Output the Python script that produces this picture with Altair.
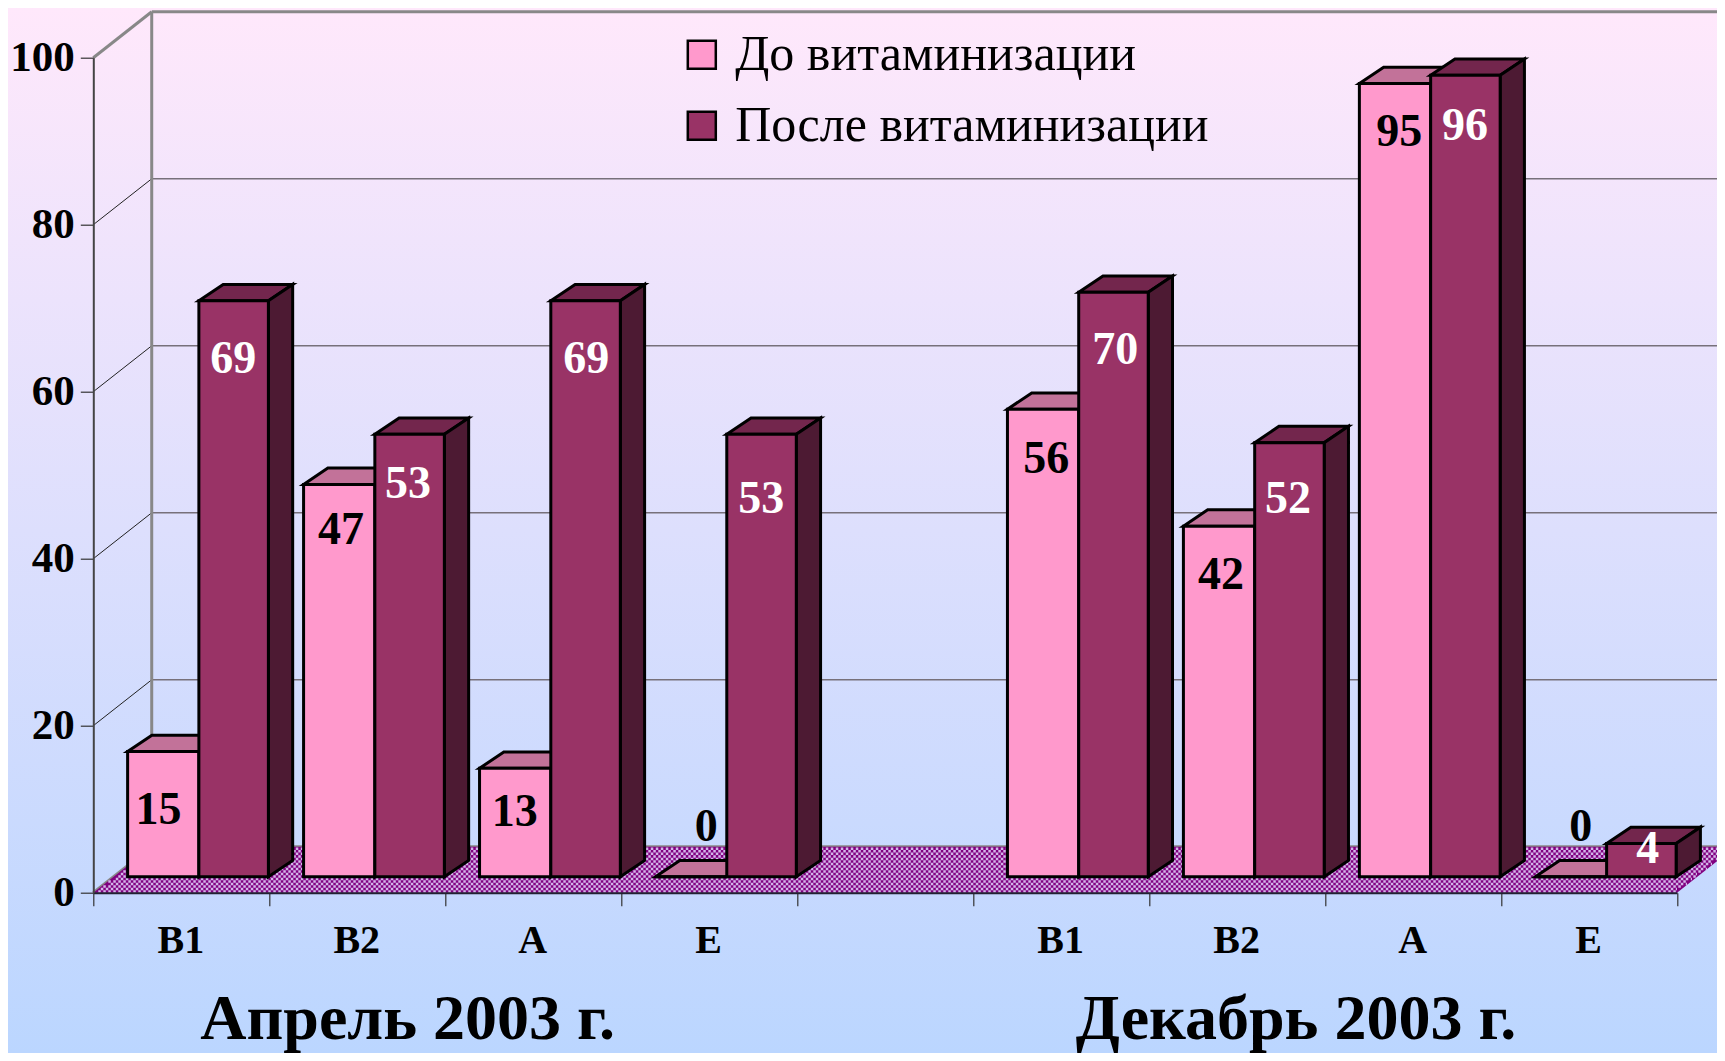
import json
import math
import altair as alt
import pandas as pd

# ---- values ----
x_labels = ["В1", "В2", "А", "Е", "", "В1", "В2", "А", "Е", ""]
slots = [0, 1, 2, 3, 5, 6, 7, 8]
before = [15, 47, 13, 0, 56, 42, 95, 0]
after = [69, 53, 69, 53, 70, 52, 96, 4]
series = ["До витаминизации", "После витаминизации"]
y_ticks = [0, 20, 40, 60, 80, 100]
groups = ["Апрель 2003 г.", "Декабрь 2003 г."]
group_x = [1.786, 6.835]

# where the original placed its data labels, in chart units (slot, value)
before_label_x = [0.370, 1.408, 2.395, 3.483, 5.415, 6.409, 7.421, 8.453]
before_label_y = [9.95, 43.4, 9.67, 7.83, 52.0, 38.1, 91.05, 7.83]
after_label_x = [0.795, 1.789, 2.802, 3.796, 5.808, 6.79, 7.795, 8.834]
after_label_y = [63.9, 48.95, 63.9, 47.2, 65.05, 47.2, 91.85, 5.2]

# ---- look ----
SERIF = "Liberation Serif"
PINK, PURPLE = "#FF99CC", "#993366"
PINK_TOP, PURPLE_TOP = "#C27299", "#73264D"
PURPLE_SIDE = "#4D1A33"
WALL_DX, WALL_DY = 0.332, 5.5      # depth of the walls
BAR_DX, BAR_DY = 0.138, 1.95       # depth of a bar
BASE = 1.9                         # height of a bar's foot over the front edge
OFF0, MID, END = 0.195, 0.600, 0.995

PLOT_W, PLOT_H = 1583.7, 835
PAD = {"left": 85.3, "top": 49.7, "right": 40, "bottom": 160.3}

xs = alt.Scale(domain=[0, 9], nice=False, zero=False)
ys = alt.Scale(domain=[0, 100], nice=False, zero=False)

XAXIS = alt.Axis(
    values=list(range(10)), grid=False, zindex=1,
    domainColor="#222233", domainWidth=2, tickColor="#333333", tickSize=13, tickWidth=1.2,
    labelFont=SERIF, labelFontWeight="bold", labelFontSize=40, labelColor="black",
    labelOffset=87, labelPadding=15, labelBound=False, labelFlush=False, labelOverlap=False,
    labelExpr=json.dumps(x_labels, ensure_ascii=False) + "[datum.value]",
)
YAXIS = alt.Axis(
    values=y_ticks, grid=False, zindex=1,
    domainColor="#444444", domainWidth=2, tickColor="#333333", tickSize=13, tickWidth=1.2,
    labelFont=SERIF, labelFontWeight="bold", labelFontSize=43, labelColor="black",
    labelPadding=6, labelBound=False, labelFlush=False, labelOverlap=False,
)


def X(f="x"):
    return alt.X(f"{f}:Q", scale=xs, axis=XAXIS, title=None)


def Y(f="y"):
    return alt.Y(f"{f}:Q", scale=ys, axis=YAXIS, title=None, stack=None)


# ---- background ----
bg = alt.Chart(pd.DataFrame({"a": [1]})).mark_rect(
    color=alt.Gradient(
        gradient="linear", x1=0, y1=0, x2=0, y2=1,
        stops=[alt.GradientStop(offset=0, color="#FFE8FB"),
               alt.GradientStop(offset=1, color="#BBD6FF")],
    )
).encode(
    x=alt.value(-PAD["left"]), x2=alt.value(PLOT_W + PAD["right"]),
    y=alt.value(-PAD["top"]), y2=alt.value(PLOT_H + PAD["bottom"]),
)

# ---- walls ----
lines = []
for v in y_ticks[1:-1]:
    lines.append(dict(x=WALL_DX, x2=9 + WALL_DX, y=v + WALL_DY, y2=v + WALL_DY, c="#77707A", w=1.4))
    lines.append(dict(x=0, x2=WALL_DX, y=v, y2=v + WALL_DY, c="#222222", w=1))
lines += [
    dict(x=WALL_DX, x2=9 + WALL_DX, y=100 + WALL_DY, y2=100 + WALL_DY, c="#888888", w=3),
    dict(x=0, x2=WALL_DX, y=100, y2=100 + WALL_DY, c="#888888", w=3),
    dict(x=WALL_DX, x2=WALL_DX, y=WALL_DY, y2=100 + WALL_DY, c="#888888", w=3),
    dict(x=WALL_DX, x2=9 + WALL_DX, y=WALL_DY, y2=WALL_DY, c="#888888", w=3),
    dict(x=0, x2=WALL_DX, y=0, y2=WALL_DY, c="#888888", w=3),
]
walls = alt.Chart(pd.DataFrame(lines)).mark_rule().encode(
    x=X(), x2="x2:Q", y=Y(), y2="y2:Q",
    stroke=alt.Stroke("c:N", scale=None),
    strokeWidth=alt.StrokeWidth("w:Q", scale=None),
)

# ---- floor: a checkered fill, every row starting on the same phase ----
floor = alt.Chart(pd.DataFrame({
    "x": [0, WALL_DX, 9, 9 + WALL_DX],
    "y": [0, 0, 0, WALL_DY],
    "y2": [0, WALL_DY, WALL_DY, WALL_DY],
})).mark_area(color="#800080", orient="vertical").encode(x=X(), y=Y(), y2="y2:Q")

row_step = 0.3
phase = 5 / (PLOT_W / 9)           # one dash period in slot units
rows_a, rows_b = [], []
for i in range(18):
    v = 0.15 + i * row_step
    shift = v / WALL_DY * WALL_DX
    row = dict(x=math.ceil(shift / phase) * phase, x2=9 + math.floor(shift / phase) * phase, y=v)
    (rows_a if i % 2 == 0 else rows_b).append(row)
dots_a = alt.Chart(pd.DataFrame(rows_a)).mark_rule(
    color="#D4B6EA", strokeWidth=2.5, strokeDash=[2.5, 2.5]
).encode(x=X(), x2="x2:Q", y=Y())
dots_b = alt.Chart(pd.DataFrame(rows_b)).mark_rule(
    color="#D4B6EA", strokeWidth=2.5, strokeDash=[2.5, 2.5], strokeDashOffset=2.5
).encode(x=X(), x2="x2:Q", y=Y())

# ---- bars ----
faces, fronts, labels = [], [], []
fid = 0
for k, s in enumerate(slots):
    for name, v, x0, x1, top_c, lx, ly, tc in [
        (series[0], before[k], s + OFF0, s + MID, PINK_TOP, before_label_x[k], before_label_y[k], "black"),
        (series[1], after[k], s + MID, s + END, PURPLE_TOP, after_label_x[k], after_label_y[k], "white"),
    ]:
        t = BASE + v
        fid += 1
        for px, lo, hi in [(x0, t, t), (x0 + BAR_DX, t, t + BAR_DY),
                           (x1, t, t + BAR_DY), (x1 + BAR_DX, t + BAR_DY, t + BAR_DY)]:
            faces.append(dict(id=fid, x=px, y=lo, y2=hi, c=top_c))
        if v > 0:
            fid += 1
            faces.append(dict(id=fid, x=x1, y=BASE, y2=t, c=PURPLE_SIDE))
            faces.append(dict(id=fid, x=x1 + BAR_DX, y=BASE + BAR_DY, y2=t + BAR_DY, c=PURPLE_SIDE))
        fronts.append(dict(series=name, x=x0, x2=x1, y=BASE, y2=t))
        labels.append(dict(x=lx, y=ly, t=str(v), c=tc))

face_layer = alt.Chart(pd.DataFrame(faces)).mark_area(
    stroke="black", strokeWidth=3, strokeJoin="miter", orient="vertical"
).encode(
    x=X(), y=Y(), y2="y2:Q",
    fill=alt.Fill("c:N", scale=None),
    detail="id:N",
)
front_layer = alt.Chart(pd.DataFrame(fronts)).mark_bar(
    stroke="black", strokeWidth=3
).encode(
    x=X(), x2="x2:Q", y=Y(), y2="y2:Q",
    color=alt.Color("series:N", scale=alt.Scale(domain=series, range=[PINK, PURPLE]), legend=alt.Legend(
        title=None, orient="none", legendX=583.5, legendY=-28, symbolType="square", symbolSize=784,
        symbolStrokeColor="black", symbolStrokeWidth=2.5, symbolOpacity=1, zindex=1,
        labelFont=SERIF, labelFontSize=50, labelColor="black", labelLimit=800,
        labelOffset=8.4, rowPadding=21,
    )),
)
label_layer = alt.Chart(pd.DataFrame(labels)).mark_text(
    font=SERIF, fontWeight="bold", fontSize=46, baseline="middle", align="center"
).encode(
    x=X(), y=Y(), text="t:N",
    fill=alt.Fill("c:N", scale=None),
)
group_layer = alt.Chart(pd.DataFrame({"x": group_x, "y": [-17.5, -17.5], "t": groups})).mark_text(
    font=SERIF, fontWeight="bold", fontSize=64, baseline="alphabetic", align="center", color="black"
).encode(x=X(), y=Y(), text="t:N")

chart = alt.layer(
    bg, walls, floor, dots_a, dots_b, face_layer, front_layer, label_layer, group_layer
).properties(
    width=PLOT_W, height=PLOT_H, padding=PAD,
    autosize=alt.AutoSizeParams(type="none"),
).configure_view(stroke=None)

chart.save("out.html", embed_options={"renderer": "svg", "actions": False})
